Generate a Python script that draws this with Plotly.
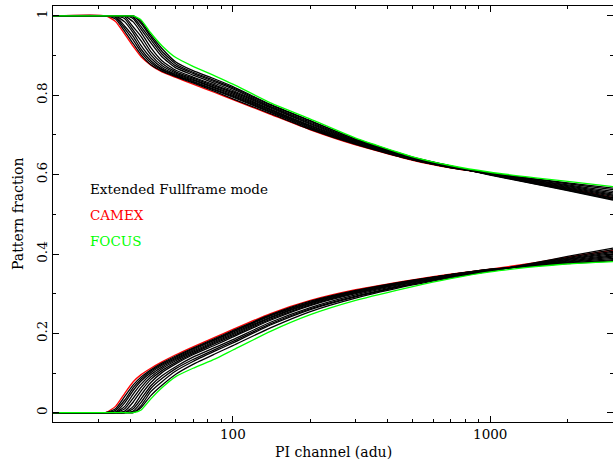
import plotly.graph_objects as go

# PI channel grid (adu)
pi_channel = [20, 32, 35, 38, 41, 44, 48, 53, 60, 70, 85, 100, 140, 200, 300, 500, 700, 1000, 1500, 2000, 3000]

# ---- upper branch ----
upper_camex = [1, 1, .986, .954, .923, .897, .876, .859, .845, .828, .807, .789, .752, .713, .675, .636, .617, .602, .582, .566, .542]
upper_focus = [1, 1, 1, 1, 1, .990, .957, .925, .895, .873, .849, .828, .781, .740, .692, .645, .623, .606, .592, .583, .570]
upper_eff = [
    [1, 1, .992, .961, .930, .902, .877, .861, .847, .831, .810, .791, .754, .714, .676, .637, .618, .604, .589, .579, .566],
    [1, 1, .996, .968, .939, .909, .882, .864, .849, .833, .813, .795, .757, .716, .678, .637, .618, .604, .588, .577, .562],
    [1, 1, .999, .974, .948, .916, .887, .866, .851, .835, .815, .797, .759, .718, .679, .638, .618, .603, .586, .574, .558],
    [1, 1, 1, .985, .957, .925, .894, .870, .853, .838, .818, .800, .761, .720, .680, .639, .619, .603, .585, .572, .554],
    [1, 1, 1, .993, .964, .937, .902, .875, .856, .840, .820, .803, .763, .722, .681, .639, .619, .602, .583, .570, .551],
    [1, 1, 1, .998, .972, .948, .910, .881, .859, .843, .823, .806, .765, .724, .683, .640, .620, .602, .582, .568, .548],
    [1, 1, 1, 1, .985, .958, .920, .887, .863, .846, .826, .809, .768, .727, .684, .641, .620, .601, .580, .566, .545],
    [1, 1, 1, 1, .993, .966, .932, .897, .869, .851, .830, .812, .770, .729, .685, .641, .620, .601, .579, .564, .542],
    [1, 1, 1, 1, .997, .973, .940, .904, .874, .855, .834, .816, .772, .732, .687, .642, .621, .600, .578, .563, .540],
    [1, 1, 1, 1, 1, .981, .947, .911, .879, .858, .837, .819, .775, .735, .689, .643, .622, .600, .577, .561, .538],
    [1, 1, 1, 1, 1, .986, .952, .918, .884, .862, .841, .822, .777, .736, .690, .644, .622, .599, .576, .560, .536],
]

# ---- lower branch ----
lower_camex = [0, 0, .016, .049, .078, .096, .112, .128, .146, .166, .190, .210, .250, .283, .310, .335, .349, .362, .378, .392, .410]
lower_focus = [0, 0, 0, 0, 0, .007, .035, .063, .091, .112, .135, .158, .205, .247, .283, .318, .338, .355, .368, .375, .381]
lower_eff = [
    [0, 0, .010, .041, .070, .090, .108, .125, .143, .163, .187, .207, .247, .281, .308, .334, .348, .362, .370, .376, .383],
    [0, 0, .006, .032, .063, .085, .105, .122, .140, .161, .185, .205, .246, .279, .307, .333, .348, .361, .370, .377, .386],
    [0, 0, .002, .025, .056, .080, .101, .119, .137, .158, .183, .203, .244, .278, .306, .333, .348, .361, .371, .379, .389],
    [0, 0, 0, .016, .047, .072, .096, .115, .134, .155, .180, .200, .241, .276, .305, .332, .347, .360, .372, .380, .392],
    [0, 0, 0, .010, .037, .064, .090, .111, .131, .152, .177, .197, .239, .274, .303, .331, .346, .360, .373, .382, .395],
    [0, 0, 0, .004, .027, .055, .084, .106, .127, .149, .174, .194, .236, .272, .302, .330, .346, .359, .373, .384, .398],
    [0, 0, 0, 0, .016, .045, .076, .101, .123, .146, .170, .191, .233, .270, .300, .329, .345, .359, .374, .386, .401],
    [0, 0, 0, 0, .010, .035, .068, .093, .116, .140, .164, .184, .228, .265, .297, .327, .344, .358, .375, .387, .404],
    [0, 0, 0, 0, .004, .026, .061, .086, .111, .134, .159, .180, .224, .262, .294, .325, .343, .358, .376, .389, .407],
    [0, 0, 0, 0, .001, .018, .053, .078, .105, .129, .155, .176, .221, .260, .292, .324, .342, .357, .377, .391, .411],
    [0, 0, 0, 0, 0, .013, .043, .069, .097, .122, .148, .169, .214, .255, .289, .322, .340, .357, .378, .394, .415],
]

x_major = [100, 1000]
x_major_text = ["100", "1000"]
x_minor = [20, 30, 40, 50, 60, 70, 80, 90, 200, 300, 400, 500, 600, 700, 800, 900, 2000, 3000]
y_major = [0, 0.2, 0.4, 0.6, 0.8, 1]
y_major_text = ["0", "0.2", "0.4", "0.6", "0.8", "1"]
y_minor = [0.1, 0.3, 0.5, 0.7, 0.9]

labels = ["Extended Fullframe mode", "CAMEX", "FOCUS"]
label_colors = ["#000000", "#ff0000", "#00ff00"]
label_y = [0.560, 0.4976, 0.435]

FONT = "DejaVu Serif"
LW = 1.3

fig = go.Figure()

def add(y, color):
    fig.add_trace(go.Scatter(x=pi_channel, y=y, mode="lines",
                             line=dict(color=color, width=LW, shape="spline", smoothing=0.5),
                             showlegend=False, hoverinfo="skip"))

add(upper_camex, "#ff0000")
add(lower_camex, "#ff0000")
for yy in upper_eff:
    add(yy, "#000000")
for yy in lower_eff:
    add(yy, "#000000")
add(upper_focus, "#00ff00")
add(lower_focus, "#00ff00")

fig.update_layout(
    width=613, height=466,
    margin=dict(l=53, r=0, t=6, b=44),
    paper_bgcolor="white", plot_bgcolor="white",
    font=dict(family=FONT, size=13, color="black"),
    xaxis=dict(type="log", range=[1.30103, 3.4771],
               tickmode="array", tickvals=x_major, ticktext=x_major_text,
               ticks="inside", ticklen=6, tickwidth=1, tickcolor="black",
               minor=dict(tickmode="array", tickvals=x_minor, ticks="inside", ticklen=3, tickwidth=1, tickcolor="black"),
               showline=True, linecolor="black", linewidth=1.2, mirror="allticks",
               showgrid=False, zeroline=False, tickfont=dict(size=13.5)),
    yaxis=dict(range=[-0.0234, 1.025],
               tickmode="array", tickvals=y_major, ticktext=y_major_text,
               ticks="inside", ticklen=6, tickwidth=1, tickcolor="black",
               minor=dict(tickmode="array", tickvals=y_minor, ticks="inside", ticklen=3, tickwidth=1, tickcolor="black"),
               showline=True, linecolor="black", linewidth=1.2, mirror="allticks",
               showgrid=False, zeroline=False, tickangle=-90, tickfont=dict(size=13.5)),
)

for txt, col, yy in zip(labels, label_colors, label_y):
    fig.add_annotation(text=txt, xref="paper", yref="paper", x=0.0625, y=yy,
                       xanchor="left", yanchor="middle", showarrow=False,
                       font=dict(family=FONT, size=13.5, color=col))

fig.add_annotation(text="Pattern fraction", xref="paper", yref="paper", x=-0.0625, y=0.5,
                   xanchor="center", yanchor="middle", textangle=-90, showarrow=False,
                   font=dict(family=FONT, size=14, color="black"))
fig.add_annotation(text="PI channel (adu)", xref="paper", yref="paper", x=0.5, y=-0.072,
                   xanchor="center", yanchor="middle", showarrow=False,
                   font=dict(family=FONT, size=14, color="black"))

fig.write_html("out.html")
